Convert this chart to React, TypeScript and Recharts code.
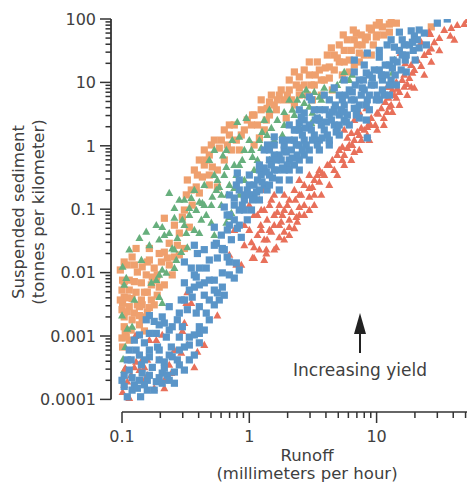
import React from 'react';
import { ScatterChart, Scatter, XAxis, YAxis, ReferenceLine } from 'recharts';

// Axis domains (log scales). The y axis line sits a little left of x = 0.1,
// the x axis line a little below y = 0.0001, as in the reference.
const X_MIN = 0.08194;
const X_MAX = 59.3;
const Y_MIN = 0.00006327;
const Y_MAX = 100;

const xTicks = [0.1, 0.2, 0.3, 0.4, 0.5, 0.6, 0.7, 0.8, 0.9, 1, 2, 3, 4, 5, 6, 7, 8, 9, 10, 20, 30, 40, 50];
const xMajor = [0.1, 1, 10];
const xLabels = ['0.1', '1', '10'];

const yTicks = [
  0.0001, 0.0002, 0.0003, 0.0004, 0.0005, 0.0006, 0.0007, 0.0008, 0.0009,
  0.001, 0.002, 0.003, 0.004, 0.005, 0.006, 0.007, 0.008, 0.009,
  0.01, 0.02, 0.03, 0.04, 0.05, 0.06, 0.07, 0.08, 0.09,
  0.1, 0.2, 0.3, 0.4, 0.5, 0.6, 0.7, 0.8, 0.9,
  1, 2, 3, 4, 5, 6, 7, 8, 9,
  10, 20, 30, 40, 50, 60, 70, 80, 90,
  100,
];
const yMajor = [0.0001, 0.001, 0.01, 0.1, 1, 10, 100];
const yLabels = ['0.0001', '0.001', '0.01', '0.1', '1', '10', '100'];

const xTitle = ['Runoff', '(millimeters per hour)'];
const yTitle = ['Suspended sediment', '(tonnes per kilometer)'];
const annotation = 'Increasing yield';

// [runoff, sediment]
const orangeSquares = [
  [0.104, 0.0072], [0.12, 0.0176], [0.125, 0.0132], [0.144, 0.0123], [0.155, 0.0092], [0.125, 0.0072],
  [0.142, 0.0069], [0.114, 0.0053], [0.129, 0.0049], [0.158, 0.0049], [0.104, 0.0041], [0.12, 0.0039],
  [0.142, 0.0037], [0.17, 0.0037], [0.186, 0.0076], [0.196, 0.0059], [0.196, 0.02], [0.215, 0.021],
  [0.101, 0.0033], [0.114, 0.0029], [0.144, 0.0031], [0.164, 0.0028], [0.125, 0.0023], [0.104, 0.002],
  [0.12, 0.0018], [0.144, 0.0019], [0.104, 0.0014], [0.173, 0.0085], [0.248, 0.0092], [0.258, 0.0176],
  [0.1, 0.0026], [0.15, 0.002], [0.137, 0.0015], [0.106, 0.0011], [0.114, 0.00086], [0.101, 0.00067],
  [0.108, 0.00096], [0.383, 0.224], [0.485, 0.241], [0.561, 0.224], [0.32, 0.168], [0.405, 0.18],
  [0.356, 0.116], [0.298, 0.075], [0.338, 0.052], [0.282, 0.042], [0.235, 0.029], [0.164, 0.024],
  [0.129, 0.024], [0.104, 0.0147], [0.164, 0.0158], [0.101, 0.0076], [0.137, 0.0029], [0.215, 0.072],
  [0.258, 0.056], [0.443, 0.859], [0.503, 1.03], [0.581, 0.92], [0.405, 0.597], [0.459, 0.597],
  [0.512, 0.463], [0.428, 0.322], [0.37, 0.415], [0.326, 0.289], [0.485, 0.346], [0.636, 0.597],
  [0.561, 0.415], [0.697, 1.48], [0.791, 1.23], [0.914, 1.78], [1.04, 2.13], [1.2, 1.33],
  [0.834, 0.859], [1.09, 1.03], [1.31, 1.78], [1.36, 2.55], [1.63, 3.7], [1.88, 5.3],
  [1.72, 6.3], [2.06, 7.6], [2.26, 4.4], [2.47, 6.3], [1.95, 2.74], [2.7, 9.1],
  [2.47, 12.2], [2.96, 13.1], [3.24, 9.1], [3.55, 15.7], [3.88, 10.9], [4.25, 17.5],
  [4.65, 27], [5.09, 21], [5.57, 32], [6.1, 22.5], [6.68, 47], [6.93, 60],
  [7.7, 39], [8.45, 52], [9.1, 67], [9.95, 80], [11.1, 75], [12.6, 62],
  [14.3, 86], [6.68, 18.8], [5.38, 13.1], [4.49, 7.6], [3.13, 5.3], [3.68, 6.3],
  [1.24, 3.7], [1.06, 3.06], [0.697, 2.13], [1.44, 4.9], [7.31, 29], [9.95, 52],
  [12.6, 83], [26.9, 75],
  [0.097, 0.011], [0.11, 0.0132], [0.132, 0.0102], [0.158, 0.0147], [0.179, 0.0118], [0.204, 0.0147],
  [0.227, 0.017], [0.1, 0.0053], [0.11, 0.004], [0.15, 0.0049], [0.17, 0.0064], [0.189, 0.0044],
  [0.215, 0.0064], [0.114, 0.0076], [0.097, 0.0037], [0.11, 0.0024], [0.132, 0.0031], [0.158, 0.0024],
  [0.179, 0.0031], [0.118, 0.00124], [0.1, 0.00093], [0.15, 0.0012], [0.137, 0.0021], [0.189, 0.0092],
  [0.235, 0.0132], [0.282, 0.019], [0.309, 0.024], [0.272, 0.027],
  [0.309, 0.097], [0.35, 0.201], [0.391, 0.346], [0.443, 0.498], [0.485, 0.716], [0.531, 1.23],
  [0.603, 1.23], [0.672, 1.03], [0.723, 0.859], [0.636, 1.78], [0.762, 2.13], [0.865, 1.48],
  [0.964, 2.55], [1.09, 3.06], [1.16, 2.13], [1.24, 5.3], [1.44, 3.06], [1.49, 6.3],
  [1.57, 4.4], [1.78, 7.6], [2.06, 10.9], [2.14, 5.3], [2.34, 9.1], [2.7, 15.7],
  [2.86, 6.3], [3.07, 9.1], [3.42, 21], [3.68, 10.9], [4.1, 27], [4.25, 11.7],
  [4.65, 15.7], [5.09, 39], [5.57, 21], [5.89, 47], [6.1, 14.6], [6.33, 32],
  [7.05, 39], [7.58, 56], [8.0, 27], [8.77, 72], [9.42, 39], [10.5, 90],
  [11.4, 56], [13.0, 90],
  [2.96, 21], [3.3, 13.1], [3.95, 16.9], [4.41, 35], [4.91, 24.3], [5.47, 56],
  [6.56, 67], [7.31, 21], [8.15, 47], [9.08, 27], [10.1, 56], [1.99, 6.3],
  [1.66, 5.3], [1.38, 3.9], [2.26, 14.6], [2.47, 8.2],
];

const greenTriangles = [
  [0.235, 0.18], [0.258, 0.104], [0.298, 0.068], [0.338, 0.104], [0.405, 0.13], [0.443, 0.116],
  [0.459, 0.081], [0.42, 0.068], [0.503, 0.061], [0.66, 0.061], [0.723, 0.087], [0.155, 0.044],
  [0.186, 0.056], [0.207, 0.052], [0.196, 0.033], [0.235, 0.042], [0.272, 0.035], [0.32, 0.042],
  [0.248, 0.024], [0.292, 0.021], [0.326, 0.025], [0.267, 0.0158], [0.258, 0.0118], [0.207, 0.011],
  [0.196, 0.0092], [0.223, 0.0099], [0.186, 0.0076], [0.17, 0.0069], [0.142, 0.0158], [0.101, 0.0123],
  [0.108, 0.0082], [0.196, 0.0041], [0.207, 0.0033], [0.1, 0.0021], [0.12, 0.0014], [0.11, 0.0013],
  [0.106, 0.00067], [0.102, 0.00043], [0.104, 0.00029], [2.06, 5.3], [1.44, 3.7], [0.947, 2.74],
  [0.805, 2.37], [1.31, 2.55], [1.26, 1.65], [1.2, 1.23], [1.0, 1.23], [0.834, 1.38],
  [0.735, 1.23], [0.66, 0.463], [0.581, 0.224], [0.512, 0.156], [0.697, 0.075], [0.791, 0.346],
  [1.06, 0.666], [1.36, 0.859], [1.82, 1.48], [2.47, 1.98], [2.96, 4.1], [3.55, 5.9],
  [5.38, 10.9], [6.44, 13.1], [0.428, 0.125], [0.405, 0.042], [13.8, 22.5], [13.3, 14.1],
  [5.57, 14.6], [4.49, 7.6], [3.68, 5.3], [2.8, 7.6], [2.7, 4.7], [3.13, 3.3],
  [3.55, 2.74], [3.07, 2.29], [9.25, 11.7], [0.531, 0.859], [0.485, 0.597], [0.561, 0.289],
  [0.636, 0.346], [0.603, 0.168], [0.697, 0.241], [0.762, 0.498], [0.88, 0.597], [0.914, 0.289],
  [0.834, 0.168], [1.09, 0.415], [1.57, 1.23], [1.44, 0.597], [1.88, 2.13], [2.26, 3.06],
  [0.66, 0.859], [0.62, 0.7], [0.37, 0.201], [0.282, 0.14], [0.338, 0.081], [0.531, 0.039],
  [0.309, 0.14], [0.35, 0.15], [0.383, 0.097], [0.503, 0.116], [0.551, 0.201], [0.603, 0.116],
  [0.672, 0.168], [0.762, 0.216], [0.834, 0.498], [0.914, 0.859], [1.04, 0.859], [1.16, 0.597],
  [1.24, 0.923], [1.38, 1.48], [1.49, 1.91], [1.66, 2.55], [1.88, 3.4], [2.18, 3.7],
  [2.38, 5.3], [2.61, 6.3], [3.24, 7.06], [3.88, 8.2], [4.25, 5.3], [4.91, 9.1],
  [6.1, 10.9], [0.531, 0.346], [0.443, 0.241], [0.37, 0.047], [0.309, 0.056], [0.258, 0.073],
  [0.215, 0.039], [0.164, 0.027], [0.137, 0.035], [0.114, 0.023], [0.104, 0.0064], [0.125, 0.0037],
  [0.258, 0.023],
];

const redTriangles = [
  [0.127, 0.001], [0.186, 0.00086], [0.106, 0.00031], [0.125, 0.00032], [0.137, 0.00029], [0.11, 0.00019],
  [0.101, 0.00013], [0.114, 0.000105], [0.158, 0.00042], [0.144, 0.00042], [0.164, 0.00086], [0.129, 0.00039],
  [0.108, 0.00029], [0.292, 0.00054], [0.391, 0.00056], [0.37, 0.00032], [0.15, 0.00032], [0.207, 0.00104],
  [0.298, 0.0012], [0.309, 0.0016], [0.561, 0.0021], [0.326, 0.0049], [0.32, 0.0033], [0.35, 0.0033],
  [0.791, 0.0132], [0.865, 0.0132], [1.09, 0.017], [1.36, 0.023], [1.09, 0.025], [1.04, 0.03],
  [0.215, 0.0002], [0.244, 0.00026], [0.179, 0.00015], [1.2, 0.14], [1.31, 0.097], [1.44, 0.116],
  [1.57, 0.081], [1.72, 0.116], [1.88, 0.097], [1.72, 0.056], [1.44, 0.047], [1.23, 0.056],
  [2.06, 0.14], [2.26, 0.201], [2.47, 0.168], [2.7, 0.241], [2.06, 0.068], [2.47, 0.108],
  [2.34, 0.075], [2.06, 0.052], [1.72, 0.036], [1.63, 0.025], [1.36, 0.02], [1.06, 0.017],
  [2.96, 0.156], [3.13, 0.224], [3.74, 0.372], [4.49, 0.597], [5.38, 0.597], [6.68, 0.798],
  [7.31, 1.48], [8.77, 2.29], [10.1, 3.3], [12.6, 4.1], [12.1, 8.5], [3.24, 0.289],
  [3.55, 0.415], [4.25, 0.498], [2.96, 0.346], [2.47, 0.289], [1.88, 0.168], [1.57, 0.168],
  [1.31, 0.201], [1.16, 0.081], [1.0, 0.116], [0.914, 0.056], [0.762, 0.047], [5.09, 0.859],
  [6.1, 1.03], [5.57, 1.78], [6.68, 2.55], [8.0, 1.78], [7.31, 3.4], [8.3, 3.9],
  [43, 80], [55, 90], [25.9, 62], [26.4, 58], [37.9, 54], [22.4, 43],
  [25.5, 30], [26.9, 34], [22.4, 18.1], [18.7, 18.8], [19.1, 14.1], [16.8, 20],
  [15.4, 29], [14.3, 10.1], [15.9, 10.9], [17.4, 9.4], [18.7, 8.5], [16.5, 8.5],
  [14.5, 7.9], [13.3, 7.6], [12.4, 8.5], [12.4, 5.7], [14.3, 5.7], [11.7, 4.9],
  [13.0, 4.4], [12.1, 3.4], [10.3, 3.2], [8.92, 2.13], [8.45, 1.98], [7.58, 1.91],
  [7.05, 1.65], [6.33, 1.59], [5.89, 1.33], [6.44, 1.03], [5.38, 0.957],
  [1.09, 0.081], [1.24, 0.097], [1.38, 0.068], [1.49, 0.14], [1.66, 0.09], [1.78, 0.063],
  [1.99, 0.116], [2.14, 0.09], [2.3, 0.14], [2.56, 0.168], [2.7, 0.116], [2.96, 0.216],
  [3.24, 0.168], [3.55, 0.269], [3.88, 0.346], [4.1, 0.498], [4.65, 0.415], [4.91, 0.716],
  [5.57, 0.716], [5.89, 0.923], [6.68, 1.23], [7.58, 1.23], [8.45, 1.48], [9.08, 2.74],
  [9.77, 2.13], [10.9, 3.9], [11.4, 2.74], [13.8, 6.3], [15.1, 7.06], [16.5, 13.1],
  [18.1, 11.7], [19.8, 15.7], [20.9, 22.5], [23.7, 27], [28.4, 43], [31.1, 50],
  [34.0, 67], [38.6, 72], [48.9, 83], [51.6, 96], [1.16, 0.039], [1.31, 0.033],
  [1.49, 0.044], [1.88, 0.044], [2.26, 0.05], [2.47, 0.081], [2.96, 0.097], [1.0, 0.047],
  [1.2, 0.023], [1.88, 0.033], [0.914, 0.027], [0.697, 0.019], [1.31, 0.0158],
  [0.104, 0.00017], [0.118, 0.00024], [0.158, 0.00024], [0.196, 0.00042], [0.235, 0.00035], [0.258, 0.0006],
  [0.326, 0.00072], [0.443, 0.00072], [0.15, 0.0002], [0.215, 0.00015],
  [1.38, 0.033], [1.57, 0.056], [1.82, 0.081], [2.06, 0.039], [2.38, 0.063], [2.7, 0.081],
  [3.24, 0.116], [3.68, 0.168], [4.25, 0.241], [4.91, 0.346], [5.57, 0.498], [6.33, 0.597],
  [7.31, 0.859], [8.77, 1.23], [10.1, 1.78], [11.4, 2.13], [13.3, 3.4], [15.1, 4.4],
  [17.4, 6.3], [19.8, 8.2], [23.7, 13.1], [26.9, 21], [31.1, 32], [40.8, 47],
  [1.57, 0.023], [1.24, 0.047], [3.42, 0.346],
];

const blueSquares = [
  [0.155, 0.0018], [0.179, 0.0017], [0.15, 0.00078], [0.129, 0.0006], [0.114, 0.0006], [0.11, 0.00042],
  [0.12, 0.00022], [0.104, 0.00016], [0.12, 0.00014], [0.14, 0.00011], [0.158, 0.00014], [0.158, 0.0002],
  [0.186, 0.00019], [0.173, 0.00032], [0.164, 0.0011], [0.186, 0.0011], [0.531, 0.052], [0.603, 0.039],
  [0.551, 0.029], [0.614, 0.023], [0.37, 0.027], [0.391, 0.02], [0.309, 0.0147], [0.35, 0.0118],
  [0.383, 0.0085], [0.459, 0.0118], [0.485, 0.0076], [0.531, 0.0076], [0.443, 0.0069], [0.614, 0.0059],
  [0.561, 0.0048], [0.37, 0.0059], [0.356, 0.0041], [0.309, 0.0069], [0.791, 0.0142], [0.762, 0.0082],
  [0.614, 0.0099], [0.292, 0.0037], [0.235, 0.0029], [0.405, 0.0029], [0.326, 0.0026], [0.282, 0.0023],
  [0.383, 0.0023], [0.459, 0.0023], [0.207, 0.002], [0.215, 0.0016], [0.248, 0.0014], [0.298, 0.0014],
  [0.405, 0.0014], [0.223, 0.00096], [0.282, 0.00096], [0.338, 0.00096], [0.405, 0.0011], [0.405, 0.00078],
  [0.19, 0.00067], [0.244, 0.00067], [0.309, 0.00067], [0.137, 0.0005], [0.164, 0.00047], [0.196, 0.00042],
  [0.248, 0.00047], [0.207, 0.00026], [0.227, 0.00024], [0.144, 0.00026], [0.215, 0.00039], [0.272, 0.00042],
  [0.207, 0.00018], [0.258, 0.00018], [4.25, 5.3], [5.09, 6.3], [6.1, 7.6], [7.31, 10.9],
  [8.77, 13.1], [10.5, 15.7], [12.6, 18.8], [14.5, 21], [5.57, 4.4], [6.68, 5.3],
  [8.0, 7.6], [9.59, 9.1], [4.65, 3.7], [7.31, 4.4], [8.3, 2.55], [8.45, 1.33],
  [5.09, 3.06], [11.1, 10.9], [8.3, 14.1], [10.5, 25], [8.45, 29], [6.68, 22.5],
  [17.1, 27], [18.7, 65], [19.8, 54], [15.9, 47], [13.8, 36], [16.5, 39],
  [24.6, 39], [30, 86], [35.9, 100], [12.1, 39], [11.5, 6.3], [13.0, 10.9],
  [2.47, 1.78], [2.96, 2.13], [3.55, 2.55], [4.25, 3.06], [2.7, 1.23], [3.24, 1.48],
  [3.88, 1.78], [4.65, 2.13], [5.57, 2.55], [3.55, 1.23], [2.96, 0.859], [2.47, 1.03],
  [2.06, 1.23], [2.26, 1.78], [2.56, 2.85], [2.96, 5.9], [1.57, 1.38], [3.55, 3.7],
  [1.88, 0.859], [4.25, 1.03], [5.09, 1.48], [2.7, 3.3], [2.47, 2.29], [1.44, 0.597],
  [1.72, 0.716], [2.06, 0.597], [1.57, 0.415], [1.88, 0.415], [2.26, 0.498], [2.47, 0.597],
  [2.7, 0.716], [1.72, 0.289], [1.44, 0.346], [2.06, 0.289], [1.31, 0.241], [1.2, 0.415],
  [1.39, 1.03], [0.834, 0.201], [1.0, 0.241], [1.09, 0.168], [0.914, 0.14], [0.762, 0.116],
  [1.0, 0.346], [0.834, 0.289], [0.697, 0.168], [1.2, 0.201], [0.914, 0.097], [0.67, 0.081],
  [0.805, 0.372], [0.791, 0.241], [0.636, 0.108], [0.614, 0.024], [0.531, 0.027], [0.865, 0.036],
  [0.697, 0.056], [0.67, 0.0176],
  [0.697, 0.081], [0.762, 0.068], [0.834, 0.097], [0.914, 0.168], [1.0, 0.168], [1.04, 0.097],
  [1.09, 0.241], [1.16, 0.289], [1.24, 0.346], [1.31, 0.447], [1.38, 0.201], [1.49, 0.498],
  [1.57, 0.716], [1.66, 0.415], [1.78, 0.597], [1.88, 1.03], [1.99, 0.498], [2.14, 0.859],
  [2.26, 1.23], [2.38, 0.716], [2.61, 1.48], [2.8, 1.03], [3.07, 1.78], [3.3, 2.55],
  [3.42, 1.03], [3.68, 2.13], [3.95, 3.7], [4.1, 1.48], [4.41, 2.55], [4.74, 4.4],
  [4.91, 1.91], [5.28, 3.7], [5.68, 6.3], [5.89, 3.06], [6.33, 5.3], [6.8, 9.1],
  [7.05, 3.9], [7.58, 6.3], [7.87, 10.9], [8.45, 5.3], [9.08, 9.1], [9.59, 15.7],
  [10.1, 6.3], [10.9, 13.1], [11.7, 18.8], [12.6, 9.1], [13.5, 22.5], [14.0, 13.1],
  [15.1, 32], [15.6, 15.7], [16.8, 22.5], [18.1, 39], [19.4, 32], [20.9, 47],
  [21.6, 67], [23.7, 60], [1.2, 0.14], [1.44, 0.241], [1.72, 0.201], [2.06, 0.415],
  [2.47, 0.415], [2.96, 0.597], [3.55, 0.859], [4.25, 1.23], [5.09, 2.13], [6.1, 2.13],
  [7.31, 2.74], [8.77, 3.7], [10.5, 5.3], [12.6, 6.3], [0.964, 0.068], [0.805, 0.05],
  [0.723, 0.033], [1.31, 0.859], [1.57, 1.03], [2.06, 2.13], [2.47, 3.7], [3.07, 5.3],
  [3.88, 6.3], [4.65, 8.2], [5.57, 10.9], [6.68, 14.6], [8.0, 18.8], [10.5, 32],
  [13.0, 47], [15.1, 62],
  [0.104, 0.00024], [0.114, 0.00029], [0.125, 0.00017], [0.137, 0.0002], [0.15, 0.00017], [0.164, 0.00024],
  [0.179, 0.00014], [0.196, 0.00022], [0.215, 0.00031], [0.235, 0.0002], [0.258, 0.00027], [0.282, 0.00035],
  [0.309, 0.00029], [0.338, 0.00042], [0.37, 0.0005], [0.15, 0.00042], [0.164, 0.0006], [0.196, 0.0006],
  [0.235, 0.0005], [0.282, 0.0006], [0.338, 0.00072], [0.37, 0.00104], [0.443, 0.00124], [0.485, 0.0018],
  [0.531, 0.0031], [0.581, 0.0037], [0.636, 0.0044], [0.443, 0.0044], [0.485, 0.0037], [0.531, 0.0053],
  [0.405, 0.0064], [0.338, 0.0053], [0.697, 0.0092], [0.834, 0.011], [0.697, 0.0147], [0.636, 0.023],
  [0.561, 0.017], [0.485, 0.0158], [0.443, 0.023], [0.405, 0.0118], [0.37, 0.0092], [0.309, 0.0037],
  [0.272, 0.0018], [0.235, 0.00124], [0.196, 0.0015], [0.164, 0.0021], [0.137, 0.00104], [0.125, 0.00086],
  [0.142, 0.00035], [0.118, 0.00042], [0.1, 0.0002], [0.11, 0.00011], [0.132, 0.00015],
  [0.881, 0.116], [0.964, 0.201], [1.06, 0.14], [1.14, 0.187], [1.26, 0.269], [1.36, 0.386],
  [1.52, 0.311], [1.63, 0.597], [1.82, 0.447], [1.95, 0.798], [2.18, 0.642], [2.34, 1.03],
  [2.61, 0.859], [2.75, 1.91], [3.13, 1.23], [3.42, 2.74], [3.74, 1.33], [4.03, 2.37],
  [4.49, 3.4], [4.82, 1.65], [5.38, 5.3], [5.78, 2.37], [6.44, 7.06], [6.93, 3.06],
  [7.72, 8.2], [8.3, 4.4], [9.25, 11.7], [9.95, 5.3], [11.1, 7.6], [11.9, 13.1],
  [13.3, 16.9], [14.3, 9.1], [15.9, 27], [17.1, 14.6], [19.1, 43], [20.1, 22.5],
  [21.6, 35], [2.7, 2.55], [3.24, 3.7], [5.57, 3.4], [6.68, 3.9], [8.77, 6.3],
  [1.2, 0.498], [1.44, 0.859], [1.82, 1.23], [2.3, 1.78], [0.762, 0.15], [0.672, 0.047],
  [0.834, 0.056],
];

const COLORS = {
  orange: '#EFA06E',
  green: '#67AF7D',
  red: '#E8705A',
  blue: '#5A95C8',
  axis: '#333333',
  text: '#404040',
};
const FONT = '"DejaVu Sans", "Liberation Sans", sans-serif';

const toPoints = (arr: number[][]) => arr.map(([x, y]) => ({ x, y }));

const squareShape = (color: string) => (props: any) => {
  const { cx, cy } = props;
  if (cx == null || cy == null) return <g />;
  return <rect x={cx - 3.6} y={cy - 3.6} width={7.2} height={7.2} fill={color} />;
};

const triangleShape = (color: string) => (props: any) => {
  const { cx, cy } = props;
  if (cx == null || cy == null) return <g />;
  return (
    <polygon
      points={`${cx},${cy - 4.2} ${cx - 4},${cy + 2.9} ${cx + 4},${cy + 2.9}`}
      fill={color}
    />
  );
};

const XTick = (props: any) => {
  const { x, y, payload } = props;
  const i = xMajor.indexOf(payload.value);
  const len = i >= 0 ? 11 : 6;
  return (
    <g>
      <line x1={x} y1={y} x2={x} y2={y + len} stroke={COLORS.axis} strokeWidth={1.5} />
      {i >= 0 && (
        <text x={x} y={y + 30} textAnchor="middle" fontSize={16} fill={COLORS.text} fontFamily={FONT}>
          {xLabels[i]}
        </text>
      )}
    </g>
  );
};

const YTick = (props: any) => {
  const { x, y, payload } = props;
  const i = yMajor.indexOf(payload.value);
  const len = i >= 0 ? 11 : 5.5;
  return (
    <g>
      <line x1={x - len} y1={y} x2={x} y2={y} stroke={COLORS.axis} strokeWidth={1.5} />
      {i >= 0 && (
        <text x={x - 15} y={y} dy="0.36em" textAnchor="end" fontSize={16} fill={COLORS.text} fontFamily={FONT}>
          {yLabels[i]}
        </text>
      )}
    </g>
  );
};

const W = 467;
const H = 477;

export default function App() {
  return (
    <div style={{ position: 'relative', width: W, height: H }}>
      <ScatterChart width={W} height={H} margin={{ top: 11, right: 0, bottom: 0, left: 0 }}>
        <XAxis
          type="number"
          dataKey="x"
          scale="log"
          domain={[X_MIN, X_MAX]}
          allowDataOverflow
          ticks={xTicks}
          interval={0}
          tick={<XTick />}
          tickLine={false}
          axisLine={false}
          tickSize={0}
          tickMargin={0}
          height={73}
        />
        <YAxis
          type="number"
          dataKey="y"
          scale="log"
          domain={[Y_MIN, Y_MAX]}
          allowDataOverflow
          ticks={yTicks}
          interval={0}
          tick={<YTick />}
          tickLine={false}
          axisLine={false}
          tickSize={0}
          tickMargin={0}
          width={103}
        />
        <ReferenceLine
          segment={[{ x: X_MIN, y: 0.0001 }, { x: X_MIN, y: Y_MAX }]}
          stroke={COLORS.axis}
          strokeWidth={1.8}
          ifOverflow="visible"
        />
        <ReferenceLine
          segment={[{ x: 0.1, y: Y_MIN }, { x: X_MAX, y: Y_MIN }]}
          stroke={COLORS.axis}
          strokeWidth={1.5}
          ifOverflow="visible"
        />
        <Scatter data={toPoints(orangeSquares)} shape={squareShape(COLORS.orange)} isAnimationActive={false} />
        <Scatter data={toPoints(greenTriangles)} shape={triangleShape(COLORS.green)} isAnimationActive={false} />
        <Scatter data={toPoints(redTriangles)} shape={triangleShape(COLORS.red)} isAnimationActive={false} />
        <Scatter data={toPoints(blueSquares)} shape={squareShape(COLORS.blue)} isAnimationActive={false} />
      </ScatterChart>
      <svg
        width={W}
        height={H}
        style={{ position: 'absolute', left: 0, top: 0, pointerEvents: 'none' }}
      >
        <g fontFamily={FONT} fill={COLORS.text} fontSize={16.5} textAnchor="middle">
          <text transform="translate(16, 204) rotate(-90)">{yTitle[0]}</text>
          <text transform="translate(36, 204) rotate(-90)">{yTitle[1]}</text>
          <text x={299} y={453}>{xTitle[0]}</text>
          <text x={299} y={471}>{xTitle[1]}</text>
          <text x={352} y={368} fontSize={17}>{annotation}</text>
        </g>
        <line x1={352} y1={322} x2={352} y2={345} stroke="#222" strokeWidth={2} />
        <polygon points="352,305 346,326 358,326" fill="#222" />
      </svg>
    </div>
  );
}
